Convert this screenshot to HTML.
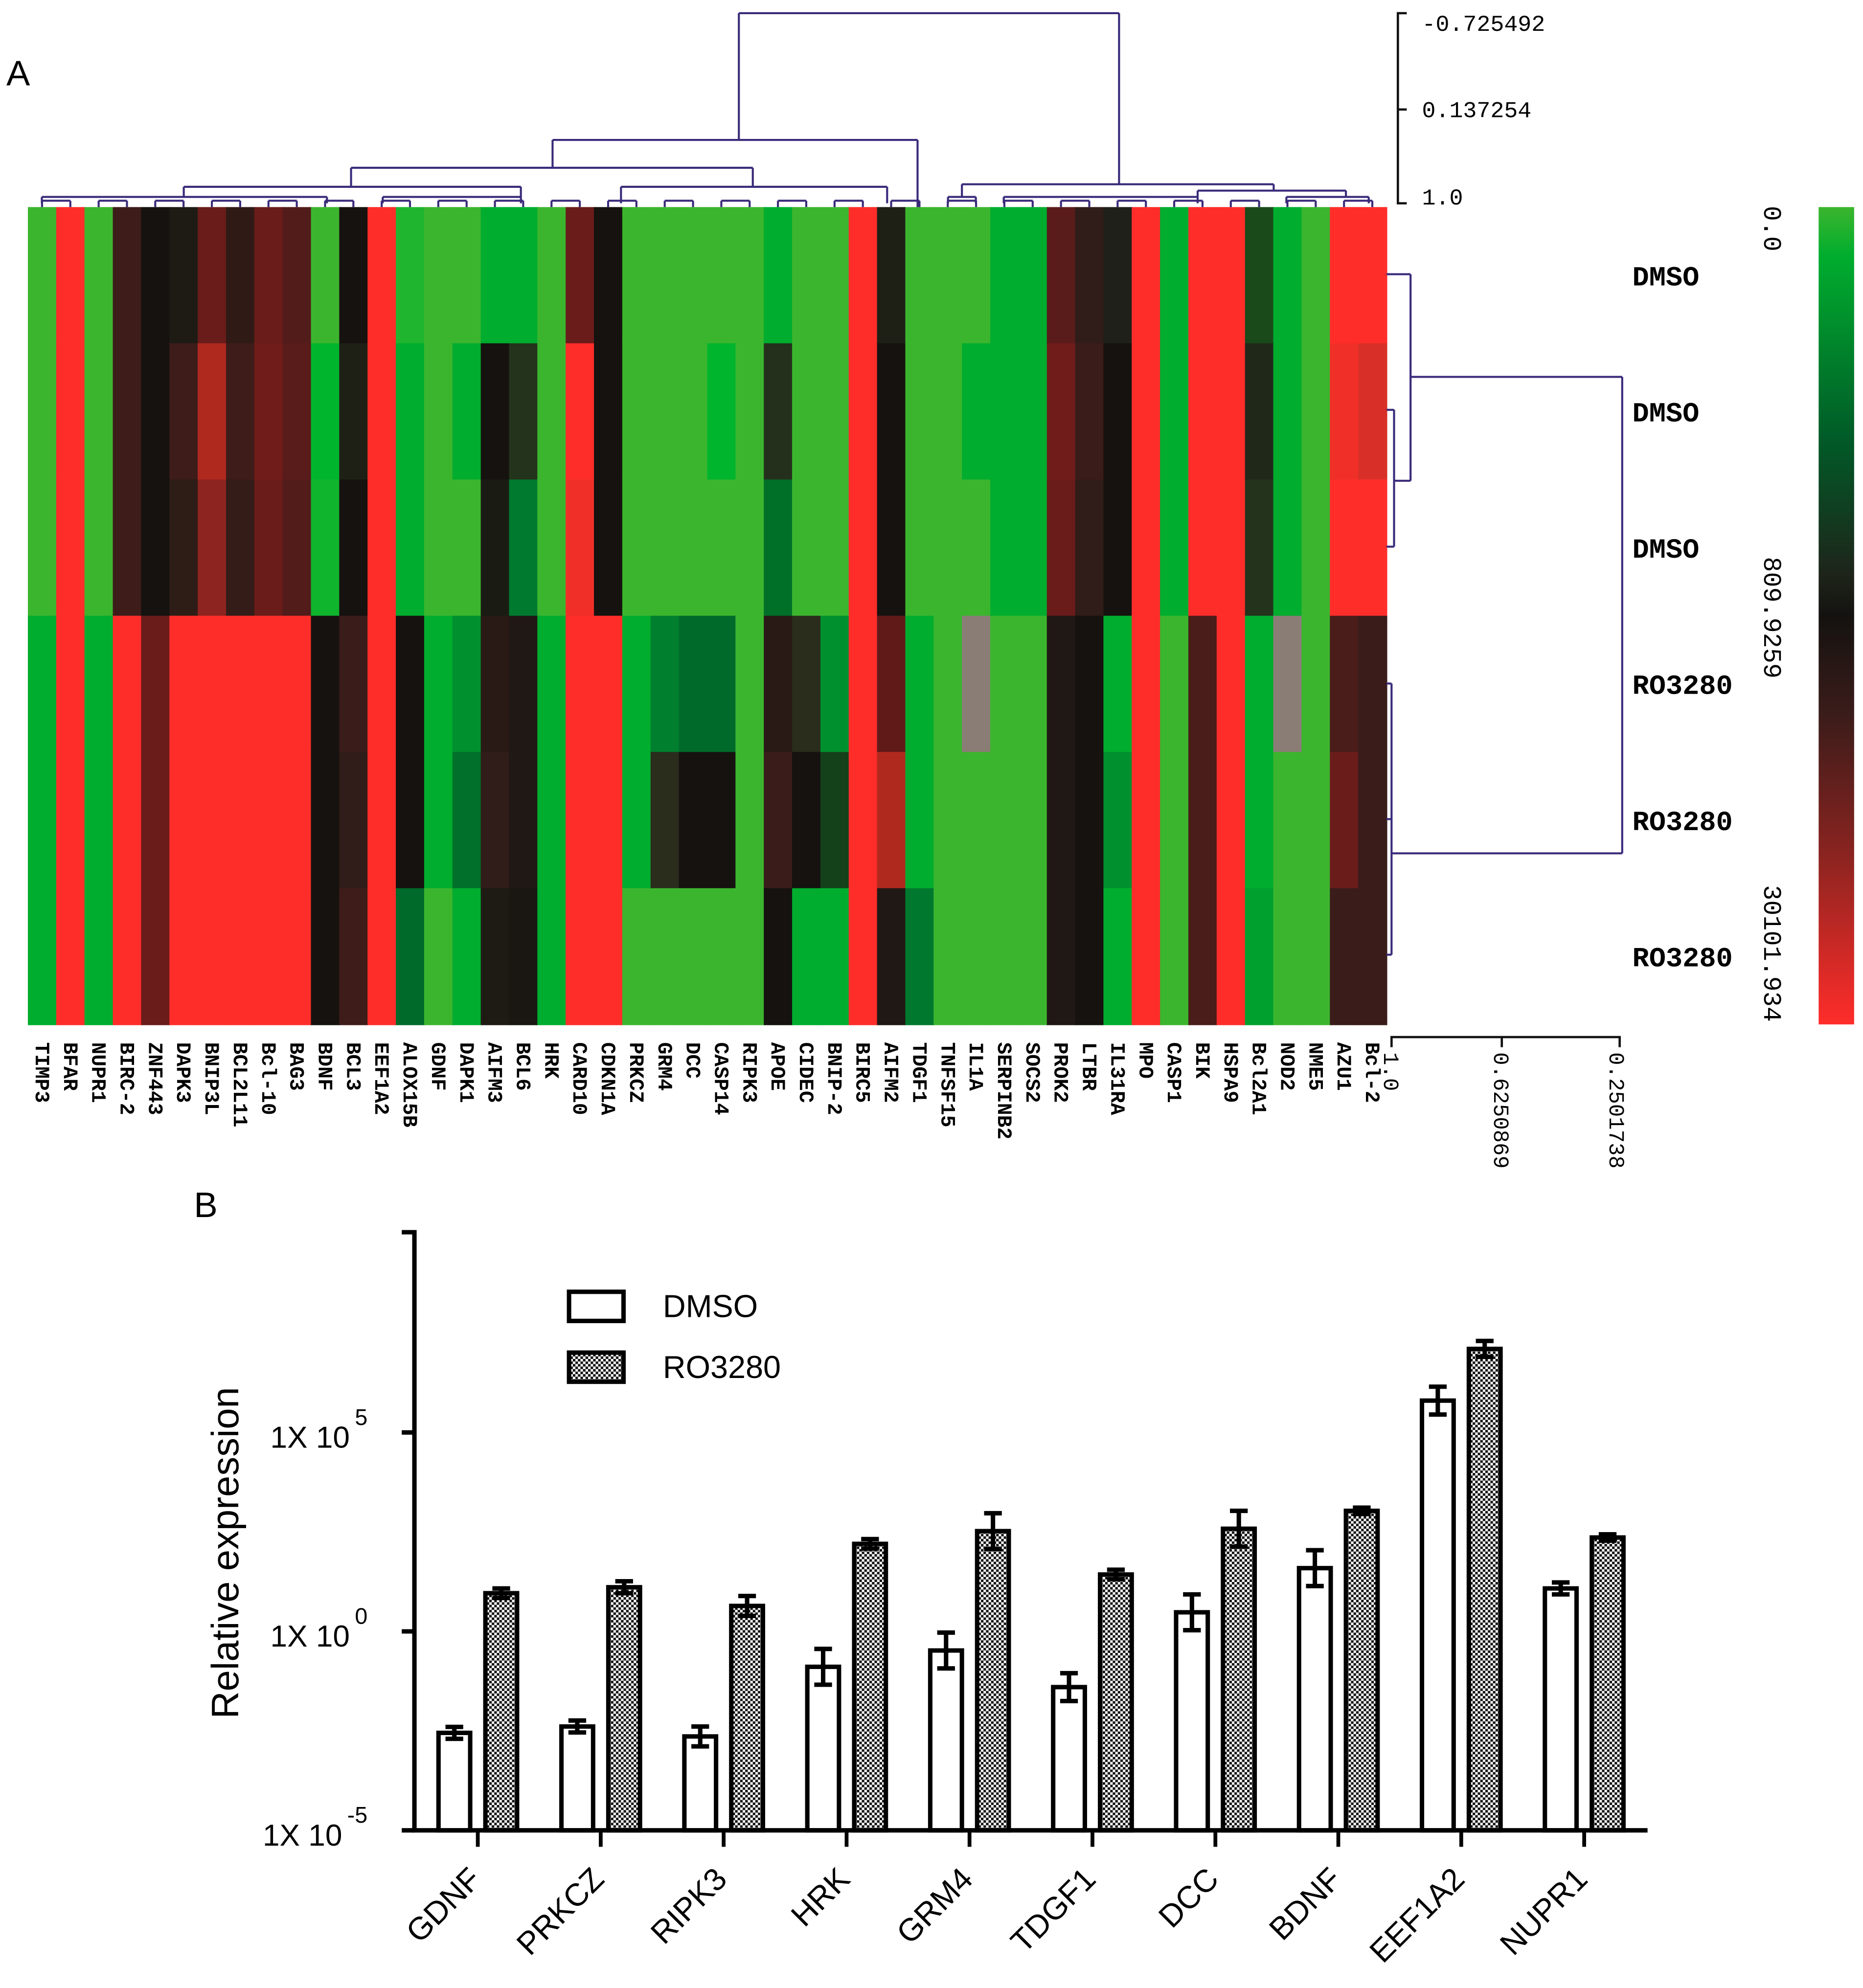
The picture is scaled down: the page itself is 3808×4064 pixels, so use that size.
<!DOCTYPE html>
<html><head><meta charset="utf-8">
<style>
html,body{margin:0;padding:0;background:#fff;}
svg{display:block;}
.mono{font-family:"Liberation Mono",monospace;font-weight:bold;}
.monon{font-family:"Liberation Mono",monospace;font-weight:normal;}
.sans{font-family:"Liberation Sans",Arial,sans-serif;}
</style></head>
<body>
<svg id="fig" xmlns="http://www.w3.org/2000/svg" width="3808" height="4064" viewBox="0 0 1470 1568">
<defs>
<pattern id="checker" width="4" height="4" patternUnits="userSpaceOnUse">
<rect width="4" height="4" fill="#fff"/><rect width="2" height="2" fill="#111"/><rect x="2" y="2" width="2" height="2" fill="#111"/>
</pattern>
<linearGradient id="cbar" x1="0" y1="0" x2="0" y2="1">
<stop offset="0" stop-color="#3cb52e"/><stop offset="0.06" stop-color="#00ad2e"/><stop offset="0.28" stop-color="#005c28"/>
<stop offset="0.45" stop-color="#1e241a"/><stop offset="0.5" stop-color="#141210"/><stop offset="0.62" stop-color="#3a1c1a"/>
<stop offset="0.8" stop-color="#8e2420"/><stop offset="1" stop-color="#ff2d2a"/>
</linearGradient>
</defs>
<text class="sans" x="5" y="67" font-size="28">A</text>
<text class="sans" x="153" y="960" font-size="28">B</text>
<g id="heat"></g>
<g id="dendro" stroke="#3a2a7a" stroke-width="1.6" fill="none"></g>
<g id="scales"></g>
<rect x="1435" y="163" width="28" height="645" fill="url(#cbar)"/>
<text class="monon" font-size="20" transform="translate(1392,180) rotate(90)" text-anchor="middle">0.0</text>
<text class="monon" font-size="20" transform="translate(1392,487) rotate(90)" text-anchor="middle">809.9259</text>
<text class="monon" font-size="20" transform="translate(1392,752) rotate(90)" text-anchor="middle">30101.934</text>
<g id="bars"></g>
</svg>
<script>
// ---------- Heatmap data ----------
const genes=["TIMP3","BFAR","NUPR1","BIRC-2","ZNF443","DAPK3","BNIP3L","BCL2L11","Bcl-10","BAG3","BDNF","BCL3","EEF1A2","ALOX15B","GDNF","DAPK1","AIFM3","BCL6","HRK","CARD10","CDKN1A","PRKCZ","GRM4","DCC","CASP14","RIPK3","APOE","CIDEC","BNIP-2","BIRC5","AIFM2","TDGF1","TNFSF15","IL1A","SERPINB2","SOCS2","PROK2","LTBR","IL31RA","MPO","CASP1","BIK","HSPA9","Bcl2A1","NOD2","NME5","AZU1","Bcl-2"];
const samples=["DMSO","DMSO","DMSO","RO3280","RO3280","RO3280"];
const G="#3cb52e",g="#00ad2e",d="#006a2a",K="#15120f",M="#6a1c1a",R="#ff2d2a",r="#b0291f",X="#8a7d76";
const cells=[
[G,G,G,g,g,g],[R,R,R,R,R,R],[G,G,G,g,g,g],["#3e1c1a","#3e1c1a","#3e1c1a",R,R,R],
[K,K,K,M,M,M],["#1e1a14","#3e1c1a","#2e1c16",R,R,R],[M,r,"#8e2420",R,R,R],["#301a16","#3e1c1a","#341c18",R,R,R],
[M,"#701c1a",M,R,R,R],["#521c1a","#5a1c1a","#521c1a",R,R,R],[G,"#00b52e","#10b52e",K,K,K],[K,"#1e2016",K,"#3a1c1a","#301c18","#3e1c1a"],
[R,R,R,R,R,R],["#20b52e",g,g,K,K,"#006a2a"],[G,G,G,g,g,G],[G,g,G,"#00902e","#00702a",g],
[g,K,"#1a1c14","#2a1a16","#301c18","#1e1a14"],[g,"#24341c","#007a2e","#201814","#201814","#1a1612"],[G,G,G,g,g,g],[M,R,"#f03028",R,R,R],
[K,K,K,R,R,R],[G,G,G,g,g,G],[G,G,G,"#00802e","#2a2c1c",G],[G,G,G,d,K,G],
[G,"#00b52e",G,d,K,G],[G,G,G,G,G,G],[g,"#24301c","#007028","#2a1a16","#3a1c1a",K],[G,G,G,"#2a2c1c",K,g],
[G,G,G,"#00902e","#14401a",g],[R,R,R,R,R,R],["#1e2016",K,K,"#601a18",r,"#201814"],[G,G,G,g,g,"#00782e"],
[G,G,G,G,G,G],[G,g,G,X,G,G],[g,g,g,G,G,G],[g,g,g,G,G,G],
["#5a1c1a","#701c1a","#6a1c1a","#201814","#201814","#201814"],["#301c18","#3a1c1a","#301c18",K,K,K],["#20201a",K,K,g,"#00902e",g],[R,R,R,R,R,R],
[g,g,g,G,G,G],[R,R,R,"#4a1c1a","#4a1c1a","#4a1c1a"],[R,R,R,R,R,R],["#1a4a1a","#20281a","#24341c",g,g,"#00a02e"],
[g,g,g,X,G,G],[G,G,G,G,G,G],[R,"#f03028",R,"#4a1c1a","#6a1c1a","#3a1c1a"],[R,"#d83028",R,"#3a1c1a","#3a1c1a","#3a1c1a"]
];
const NS="http://www.w3.org/2000/svg";
function el(tag,attrs,parent,text){const e=document.createElementNS(NS,tag);for(const k in attrs)e.setAttribute(k,attrs[k]);if(text!==undefined)e.textContent=text;parent.appendChild(e);return e;}
const hx0=22,hx1=1094,hy0=163,hy1=808;
const cw=(hx1-hx0)/genes.length, rh=(hy1-hy0)/samples.length;
const heat=document.getElementById('heat');
for(let c=0;c<genes.length;c++){
  for(let s=0;s<samples.length;s++){
    const rc=el('rect',{x:hx0+c*cw,y:hy0+s*rh,width:cw+0.6,height:rh+0.6,fill:cells[c][s]},heat);
    
    
  }
  const t=el('text',{class:'mono','font-size':16,transform:`translate(${hx0+c*cw+cw/2-5},${822}) rotate(90)`},heat,genes[c]);
  
  
}
for(let s=0;s<samples.length;s++){
  const t=el('text',{class:'mono','font-size':22,x:1288,y:hy0+s*rh+rh/2+8},heat,samples[s]);
  
  
}
// ---------- Dendrograms (decorative structure) ----------
const dd=document.getElementById('dendro');
function L(x1,y1,x2,y2){el('line',{x1,y1,x2,y2},dd);}
function U(xa,xb,y,ya,yb){L(xa,y,xb,y);L(xa,y,xa,ya);L(xb,y,xb,yb);}
U(583,883,10,110,145);
U(436,724,110,132,163);
U(277,594,132,147,147);
U(145,411,147,155,155);
U(33,258,155,160,160);
U(302,411,155,160,160);
U(490,700,147,160,160);
U(759,1005,145,155,150);
U(748,770,155,160,160);
U(792,945,155,160,160);
U(945,1062,150,155,155);
U(1015,1080,155,160,160);
for(let c=0;c<genes.length-1;c+=2){U(hx0+c*cw+cw/2,hx0+(c+1)*cw+cw/2,158,163,163);}
// row dendrogram
L(1113,297,1280,297);L(1098,673,1280,673);L(1280,297,1280,673);
L(1094,216,1113,216);L(1113,216,1113,379);L(1100,379,1113,379);
L(1094,323,1100,323);L(1100,323,1100,431);L(1094,431,1100,431);
L(1094,539,1098,539);L(1098,539,1098,753);L(1094,646,1098,646);L(1094,753,1098,753);
// scales
const sc=document.getElementById('scales');
el('path',{d:'M1110 10 H1103 V160 H1110 M1103 86 H1110',stroke:'#111','stroke-width':1.8,fill:'none'},sc);
[['-0.725492',24],['0.137254',92],['1.0',161]].forEach(a=>{const t=el('text',{class:'monon','font-size':18,x:1122,y:a[1]},sc,a[0]);});
el('path',{d:'M1098 826 V818 H1278 V826 M1185 818 V826',stroke:'#111','stroke-width':1.8,fill:'none'},sc);
[['1.0',1098],['0.6250869',1185],['0.2501738',1276]].forEach(a=>{const t=el('text',{class:'monon','font-size':17,transform:`translate(${a[1]-6},830) rotate(90)`},sc,a[0]);});

// ---------- Bar chart data ----------
const categories=["GDNF","PRKCZ","RIPK3","HRK","GRM4","TDGF1","DCC","BDNF","EEF1A2","NUPR1"];
const dmsoLog=[-2.55,-2.39,-2.64,-0.89,-0.48,-1.40,0.48,1.59,5.80,1.08];
const roLog=[0.96,1.11,0.64,2.20,2.52,1.43,2.58,3.03,7.10,2.36];
const dmsoErr=[0.15,0.15,0.25,0.45,0.45,0.35,0.45,0.45,0.35,0.15];
const roErr=[0.12,0.15,0.25,0.12,0.45,0.12,0.45,0.08,0.2,0.08];
const yTicks=[-5,0,5];
const ax0=327, ax1=1300, ay0=1444, ay1=972;
const yMin=-5, pxPerDec=(1444-1287)/5;
function yS(v){return ay0-(v-yMin)*pxPerDec;}
function xS(i){return 377+i*((1250-377)/(categories.length-1));}
const bars=document.getElementById('bars');
for(let i=0;i<categories.length;i++){
  const cx=xS(i);
  [[dmsoLog,dmsoErr,cx-31,'#fff','dmso'],[roLog,roErr,cx+6,'url(#checker)','ro3280']].forEach(s=>{
    const v=s[0][i], e=s[1][i], top=yS(v);
    const b=el('rect',{x:s[2],y:top,width:25,height:ay0-top,fill:s[3],stroke:'#000','stroke-width':3.5},bars);
    
    
    const ex=s[2]+12.5;
    const eb=el('path',{d:`M${ex} ${yS(v+e)} V${yS(v-e)} M${ex-7} ${yS(v+e)} H${ex+7} M${ex-7} ${yS(v-e)} H${ex+7}`,stroke:'#000','stroke-width':3.5,fill:'none'},bars);
    
    
  });
  const tk=el('line',{x1:cx,y1:ay0,x2:cx,y2:ay0+13,stroke:'#000','stroke-width':3},bars);
  
  
  const t=el('text',{class:'sans','font-size':25,'text-anchor':'end',transform:`translate(${cx+4},${ay0+40}) rotate(-45)`},bars,categories[i]);
  
  
}
const axes=el('path',{d:`M${ax0-10} ${ay1} H${ax0} V${ay0} H${ax1}`,stroke:'#000','stroke-width':3.5,fill:'none'},bars);


yTicks.forEach(v=>{
  const y=yS(v);
  const tk=el('line',{x1:ax0-10,y1:y,x2:ax0,y2:y,stroke:'#000','stroke-width':3.5},bars);
  
  
  const t=el('text',{class:'sans','font-size':24,'text-anchor':'end',x:v<0?270:276,y:y+12},bars,'1X 10');
  
  
  const sup=el('text',{class:'sans','font-size':18,x:v<0?274:280,y:y-6},bars,String(v));
  
  
});
const yt=el('text',{class:'sans','font-size':30,'text-anchor':'middle',transform:'translate(188,1225) rotate(-90)'},bars,'Relative expression');


const l1=el('rect',{x:449,y:1019,width:43,height:23,fill:'#fff',stroke:'#000','stroke-width':3.5},bars);


const l2=el('rect',{x:449,y:1067,width:43,height:23,fill:'url(#checker)',stroke:'#000','stroke-width':3.5},bars);


const lt1=el('text',{class:'sans','font-size':25,x:523,y:1039},bars,'DMSO');


const lt2=el('text',{class:'sans','font-size':25,x:523,y:1087},bars,'RO3280');


</script>
</body></html>
